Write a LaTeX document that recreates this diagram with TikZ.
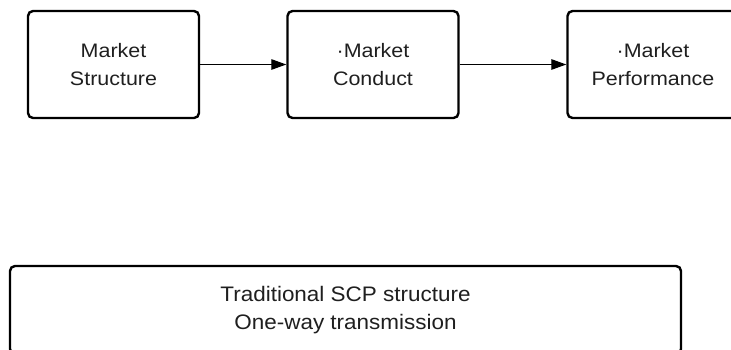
\documentclass[tikz,border=0pt]{standalone}
\usepackage{fontspec}
\setmainfont{Liberation Sans}
\newfontfamily\topfont{Liberation Sans}[FakeStretch=1.1]
\newfontfamily\botfont{Liberation Sans}[FakeStretch=1.07]
\usetikzlibrary{arrows.meta}
\begin{document}
\begin{tikzpicture}[x=1pt,y=-1pt,
  box/.style={draw=black, line width=2.4pt, rounded corners=5pt, fill=white,
    minimum width=171pt, minimum height=107pt, inner sep=0pt, align=center,
    text=black!88, font=\topfont\fontsize{19.5}{28}\selectfont},
  widebox/.style={draw=black, line width=2.4pt, rounded corners=5pt, fill=white,
    minimum width=671pt, minimum height=88pt, inner sep=0pt, align=center,
    text=black!88, font=\botfont\fontsize{21}{27.5}\selectfont},
  link/.style={line width=1.2pt, -{Triangle[length=15pt,width=10.5pt]}}]
\useasboundingbox (0,0) rectangle (731,349);
\clip (0,0) rectangle (731,349);
\fill[white] (0,0) rectangle (731,349);
\node[box] (s) at (113.5,64.5) {Market\\Structure};
\node[box] (c) at (373,64.5) {·Market\\Conduct};
\node[box] (p) at (653,64.5) {·Market\\Performance};
\node[widebox] (t) at (345.5,310) {Traditional SCP structure\\One-way transmission};
\draw[link] (s) -- (c);
\draw[link] (c) -- (p);
\end{tikzpicture}
\end{document}
